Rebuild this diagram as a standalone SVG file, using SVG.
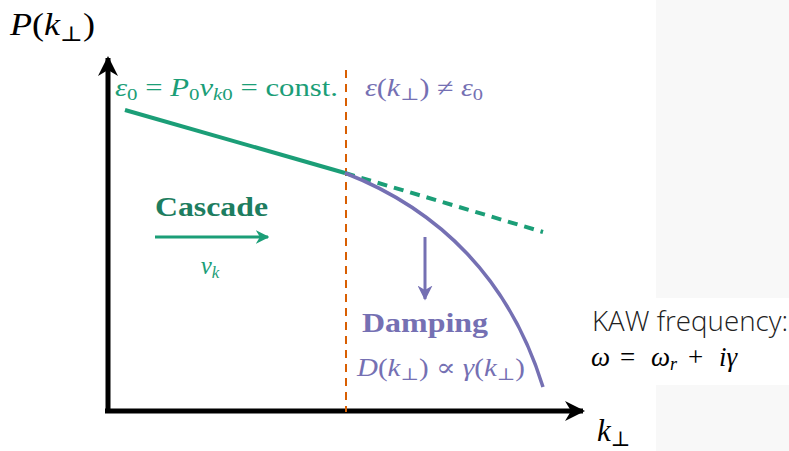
<svg xmlns="http://www.w3.org/2000/svg" width="789" height="451" viewBox="0 0 789 451">
<defs>
<style>
.m{font-family:"Liberation Serif","DejaVu Serif",serif;}
.i{font-style:italic;}
.g{fill:#1b9e77;}
.p{fill:#7570b3;}
.b{font-family:"Liberation Serif","DejaVu Serif",serif;font-weight:bold;}
.s{font-family:"Open Sans","Noto Sans",sans-serif;font-weight:300;}
</style>
<marker id="ak" viewBox="0 0 10 10" refX="9" refY="5" markerWidth="4" markerHeight="4" orient="auto" markerUnits="strokeWidth"><path d="M0,0 L10,5 L0,10 L3,5 Z" fill="#000"/></marker>
<marker id="ag" viewBox="0 0 10 10" refX="9" refY="5" markerWidth="4.5" markerHeight="4.5" orient="auto" markerUnits="strokeWidth"><path d="M0,0 L10,5 L0,10 L3,5 Z" fill="#1b9e77"/></marker>
<marker id="ap" viewBox="0 0 10 10" refX="9" refY="5" markerWidth="5" markerHeight="5" orient="auto" markerUnits="strokeWidth"><path d="M0,0 L10,5 L0,10 L3,5 Z" fill="#7570b3"/></marker>
</defs>
<rect width="789" height="451" fill="#fff"/>
<rect x="656" y="0" width="133" height="298" fill="#f8f8f8"/>
<rect x="656" y="385" width="133" height="66" fill="#f8f8f8"/>

<g id="connectors">
<line x1="108" y1="413" x2="108" y2="58" stroke="#000" stroke-width="5" marker-end="url(#ak)"/>
<line x1="105" y1="411" x2="583" y2="411" stroke="#000" stroke-width="5" marker-end="url(#ak)"/>
<line x1="346" y1="70" x2="346" y2="412" stroke="#d95f02" stroke-width="2" stroke-dasharray="8,6"/>
<line x1="125" y1="110" x2="345" y2="173" stroke="#1b9e77" stroke-width="4"/>
<line x1="345" y1="173" x2="543" y2="232" stroke="#1b9e77" stroke-width="4" stroke-dasharray="10,7"/>
<path d="M345,173 C440,210 510,280 543,387" fill="none" stroke="#7570b3" stroke-width="3.5"/>
<line x1="155" y1="237" x2="268" y2="237" stroke="#1b9e77" stroke-width="3" marker-end="url(#ag)"/>
<line x1="425" y1="237" x2="425" y2="299" stroke="#7570b3" stroke-width="3" marker-end="url(#ap)"/>
</g>

<g id="axis-y-label"><text class="m" x="10" y="35" font-size="31" fill="#000" textLength="85" lengthAdjust="spacingAndGlyphs"><tspan class="i">P</tspan>(<tspan class="i">k</tspan><tspan font-size="21" dy="6">⊥</tspan><tspan dy="-6">)</tspan></text></g>
<g id="axis-x-label"><text class="m" x="597" y="441" font-size="31" fill="#000"><tspan class="i">k</tspan><tspan font-size="21" dy="5">⊥</tspan></text></g>

<g id="label-eps0"><text class="m g" x="115" y="96" font-size="25" textLength="223" lengthAdjust="spacingAndGlyphs"><tspan class="i">ε</tspan><tspan font-size="17" dy="4">0</tspan><tspan dy="-4"> = </tspan><tspan class="i">P</tspan><tspan font-size="17" dy="4">0</tspan><tspan dy="-4" class="i">v</tspan><tspan font-size="17" dy="4"><tspan class="i">k</tspan>0</tspan><tspan dy="-4"> = const.</tspan></text></g>
<g id="label-epsk"><text class="m p" x="365" y="96" font-size="25" textLength="118" lengthAdjust="spacingAndGlyphs"><tspan class="i">ε</tspan>(<tspan class="i">k</tspan><tspan font-size="17" dy="4">⊥</tspan><tspan dy="-4">) ≠ </tspan><tspan class="i">ε</tspan><tspan font-size="17" dy="4">0</tspan></text></g>

<g id="cascade"><text class="b" x="155" y="216" font-size="28" fill="#1d7d60" textLength="113" lengthAdjust="spacingAndGlyphs">Cascade</text>
<text class="m g" x="210" y="274" font-size="25" text-anchor="middle"><tspan class="i">v</tspan><tspan class="i" font-size="17" dy="4">k</tspan></text></g>

<g id="damping"><text class="b p" x="362" y="332" font-size="28" textLength="126" lengthAdjust="spacingAndGlyphs">Damping</text>
<text class="m p" x="357" y="376" font-size="25" textLength="168" lengthAdjust="spacingAndGlyphs"><tspan class="i">D</tspan>(<tspan class="i">k</tspan><tspan font-size="17" dy="4">⊥</tspan><tspan dy="-4">) ∝ </tspan><tspan class="i">γ</tspan>(<tspan class="i">k</tspan><tspan font-size="17" dy="4">⊥</tspan><tspan dy="-4">)</tspan></text></g>

<g id="kaw"><text class="s" x="592" y="331" font-size="27" fill="#222" textLength="196" lengthAdjust="spacingAndGlyphs">KAW frequency:</text>
<text class="m" y="366" font-size="27" fill="#000"><tspan class="i" x="591">ω</tspan><tspan x="620">=</tspan><tspan class="i" x="651">ω</tspan><tspan class="i" font-size="18" dy="4">r</tspan><tspan dy="-4" x="688">+</tspan><tspan class="i" x="719">iγ</tspan></text></g>
</svg>
